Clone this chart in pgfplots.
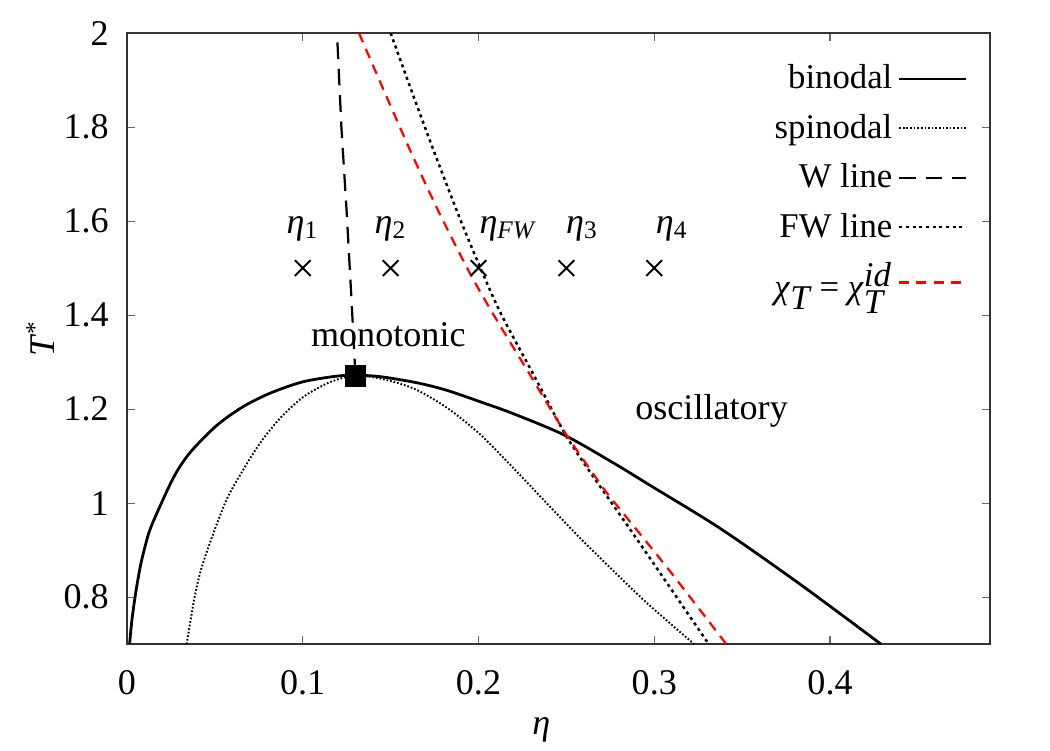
\documentclass[border=0pt]{standalone}
\usepackage{fontspec}
\setmainfont{Liberation Serif}
\usepackage{pgfplots}
\pgfplotsset{compat=1.18}
\begin{document}
\begin{tikzpicture}
\begin{axis}[
  scale only axis, width=310.7pt, height=220pt,
  xmin=0, xmax=0.491, ymin=0.7, ymax=2,
  xtick={0,0.1,0.2,0.3,0.4}, ytick={0.8,1,1.2,1.4,1.6,1.8,2},
  tick align=inside, major tick length=3pt,
  tick style={black!60, line width=0.4pt},
  axis line style={black!80, line width=0.5pt},
  /pgf/number format/assume math mode=true,
  ticklabel style={font=\fontsize{13}{15}\selectfont},
  xticklabel style={yshift=-6pt},
  yticklabel style={xshift=-3pt},
  xlabel={\textit{η}}, ylabel={\textit{T}\textsuperscript{*}},
  label style={font=\fontsize{13}{15}\selectfont},
  xlabel style={at={(axis description cs:0.48,-0.141)}, anchor=center},
  ylabel style={at={(axis description cs:-0.1,0.5)}, anchor=center},
  legend style={draw=none, fill=none, at={(axis description cs:0.984,0.967)}, anchor=north east,
    legend cell align=right, row sep=3.6pt, font=\fontsize{12.5}{14}\selectfont},
  legend plot pos=right,
  legend image code/.code={\draw[#1] (1pt,0pt) -- (25pt,0pt);},
]
% binodal
\addplot[black, line width=1pt, smooth, tension=0.5] coordinates {
(0.0015,0.70) (0.0028,0.75) (0.0046,0.80) (0.0065,0.843) (0.0084,0.879) (0.0125,0.937)
(0.0178,0.985) (0.027,1.058) (0.036,1.108)
(0.051,1.165) (0.066,1.205) (0.0815,1.234) (0.100,1.258) (0.119,1.270) (0.130,1.272)
(0.1442,1.269) (0.165,1.256) (0.182,1.240) (0.203,1.213) (0.220,1.190) (0.2487,1.145)
(0.277,1.085) (0.298,1.037) (0.338,0.945) (0.3835,0.826) (0.429,0.70)};
\addlegendentry{binodal}
% spinodal
\addplot[black, line width=0.7pt, dash pattern=on 0.6pt off 0.7pt, smooth, tension=0.5] coordinates {
(0.034,0.70) (0.0385,0.80) (0.0435,0.875) (0.0558,1.0) (0.066,1.070) (0.0758,1.128)
(0.087,1.180) (0.100,1.225) (0.114,1.255) (0.125,1.269) (0.130,1.272) (0.1442,1.265)
(0.163,1.244) (0.182,1.203) (0.201,1.146) (0.220,1.074) (0.239,0.999) (0.258,0.925)
(0.277,0.855) (0.296,0.787) (0.3227,0.70)};
\addlegendentry{spinodal}
% W line
\addplot[black, line width=0.8pt, dash pattern=on 6pt off 3.5pt] coordinates {
(0.130,1.272) (0.1275,1.45) (0.125,1.62) (0.122,1.80) (0.1195,2.0)};
\addlegendentry{W line}
% FW line
\addplot[black, line width=0.9pt, dash pattern=on 1.1pt off 1.3pt, smooth, tension=0.5] coordinates {
(0.150,2.0) (0.163,1.866) (0.176,1.735) (0.190,1.600) (0.200,1.510) (0.2125,1.405)
(0.2315,1.272) (0.2496,1.145) (0.265,1.058) (0.290,0.924) (0.331,0.70)};
\addlegendentry{FW line}
% chi_T = chi_T^id
\addplot[red, line width=0.8pt, dash pattern=on 3.6pt off 2.6pt, smooth, tension=0.5] coordinates {
(0.132,2.0) (0.148,1.862) (0.163,1.735) (0.178,1.615) (0.195,1.490) (0.2087,1.400)
(0.2277,1.283) (0.2496,1.148) (0.2695,1.040) (0.2766,1.005) (0.3075,0.862) (0.341,0.70)};
\addlegendentry{\textit{χ}$_{\textit{T}}$ = \textit{χ}$_{\textit{T}}^{\textit{id}}$}
% state points
\addplot[forget plot, only marks, mark=x, mark size=4pt, mark options={line width=0.7pt}, black] coordinates {
(0.1,1.5) (0.15,1.5) (0.2,1.5) (0.25,1.5) (0.3,1.5)};
% critical point
\addplot[forget plot, only marks, mark=square*, mark size=3.7pt, black] coordinates {(0.13,1.27)};
\node[anchor=base, font=\fontsize{13}{15}\selectfont] at (axis cs:0.100,1.574) {\textit{η}\textsubscript{1}};
\node[anchor=base, font=\fontsize{13}{15}\selectfont] at (axis cs:0.150,1.574) {\textit{η}\textsubscript{2}};
\node[anchor=base, font=\fontsize{13}{15}\selectfont] at (axis cs:0.217,1.574) {\textit{η}\textsubscript{\textit{FW}}};
\node[anchor=base, font=\fontsize{13}{15}\selectfont] at (axis cs:0.259,1.574) {\textit{η}\textsubscript{3}};
\node[anchor=base, font=\fontsize{13}{15}\selectfont] at (axis cs:0.310,1.574) {\textit{η}\textsubscript{4}};
\node[anchor=base, font=\fontsize{13}{15}\selectfont] at (axis cs:0.1487,1.333) {monotonic};
\node[anchor=base, font=\fontsize{13}{15}\selectfont] at (axis cs:0.3326,1.177) {oscillatory};
\end{axis}
\pgfresetboundingbox
\path[use as bounding box] (-45.7pt,-38.2pt) rectangle (332.3pt,231.9pt);
\end{tikzpicture}
\end{document}
